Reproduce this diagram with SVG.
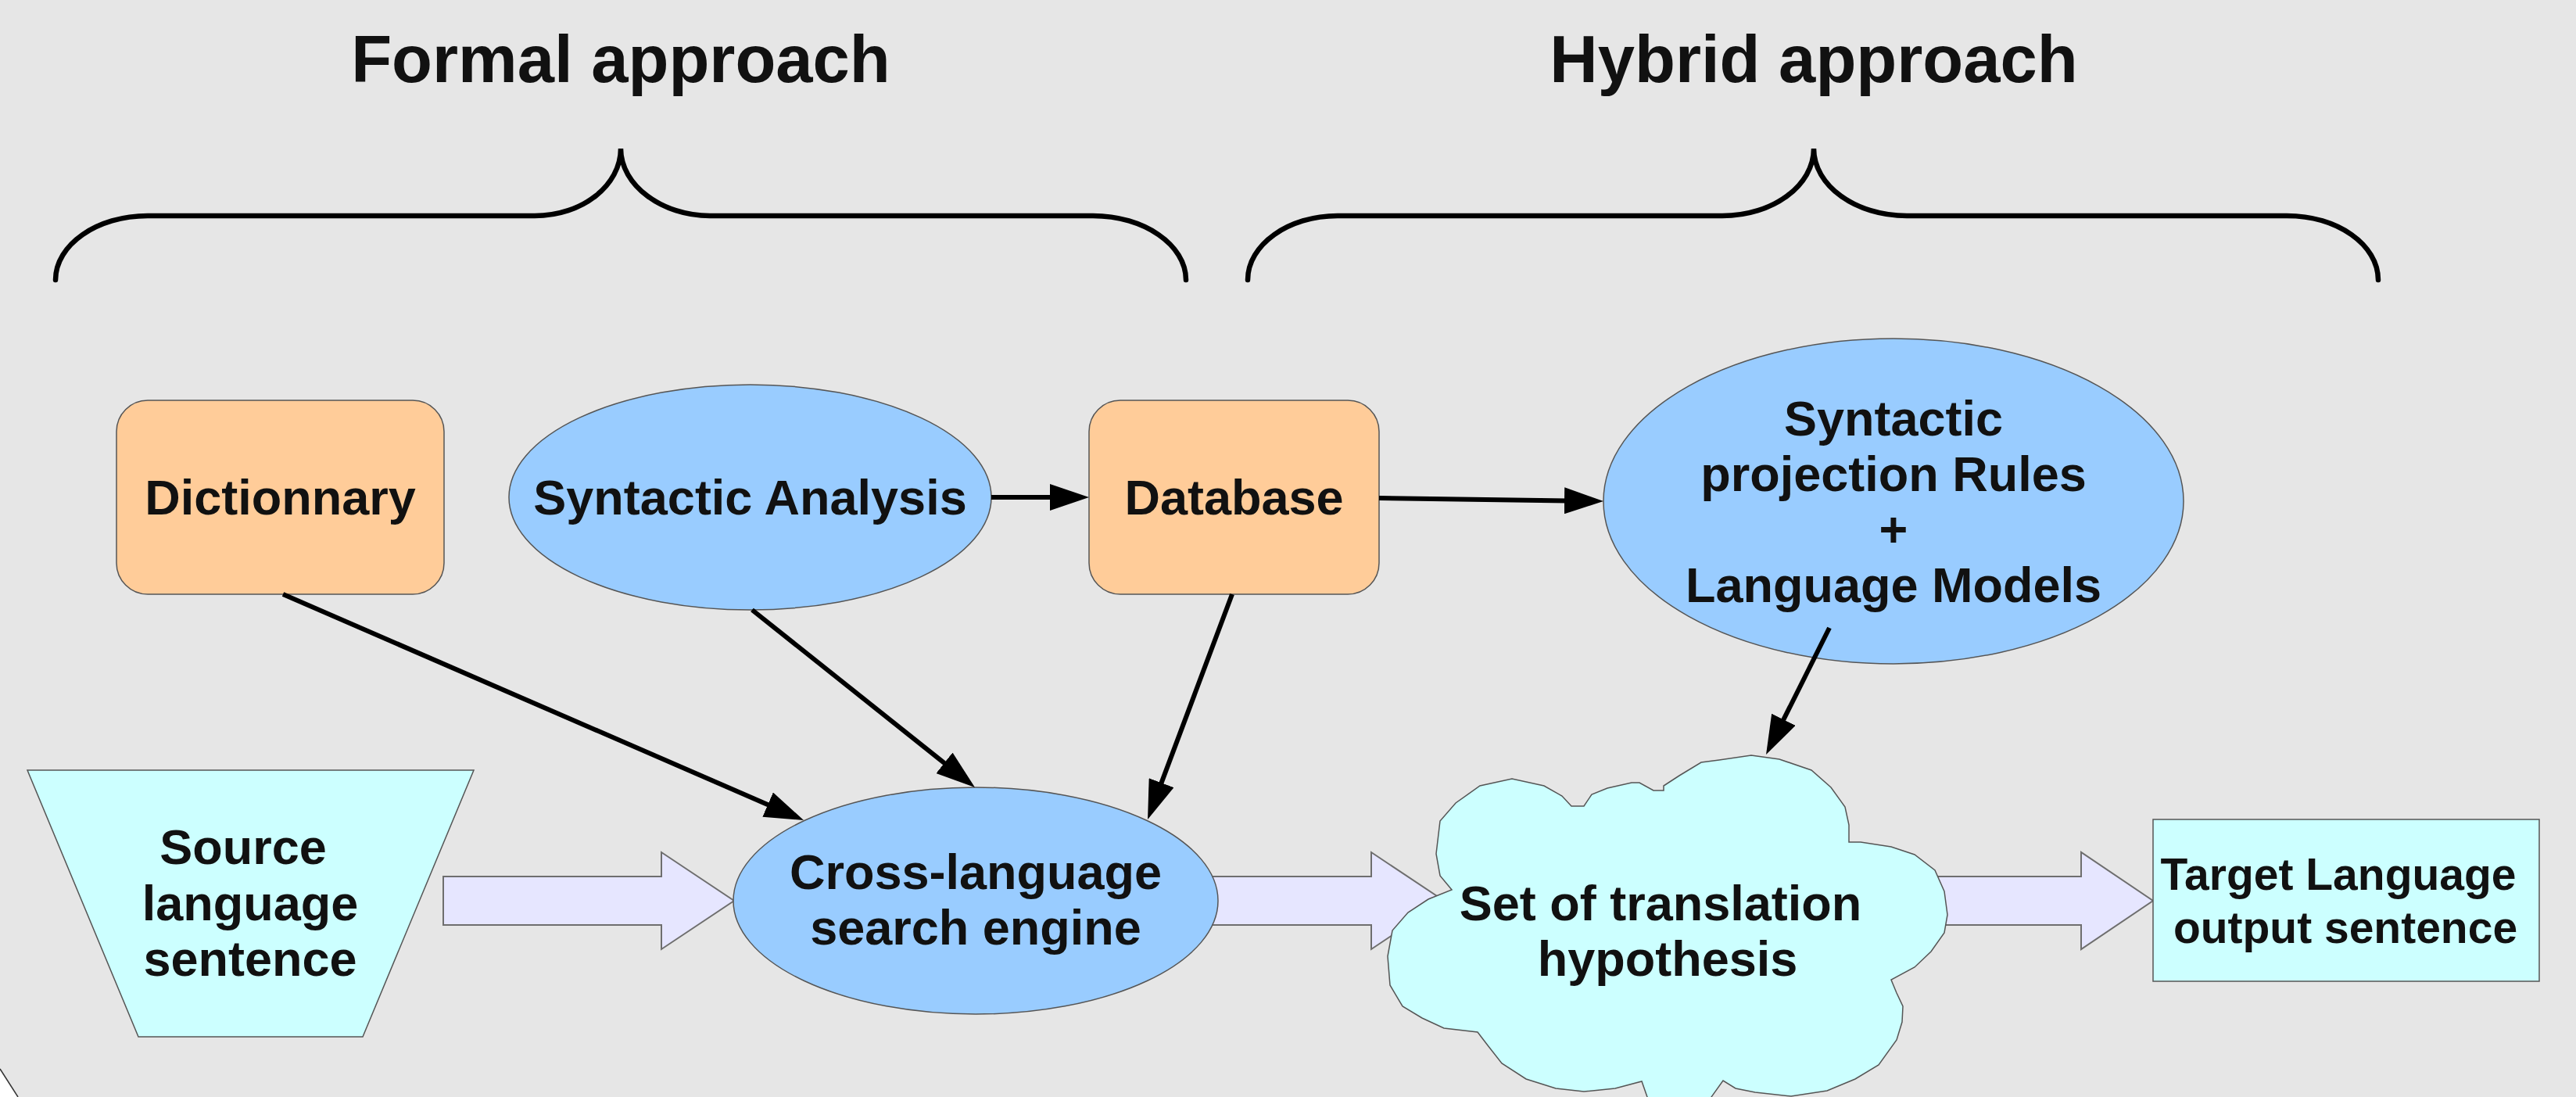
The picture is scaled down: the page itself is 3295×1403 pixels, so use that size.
<svg xmlns="http://www.w3.org/2000/svg" width="3295" height="1403" viewBox="0 0 3295 1403">
<style>
.bg{fill:#e6e6e6}
.brace{fill:none;stroke:#000;stroke-width:6.5;stroke-linecap:round}
.title{font-family:"Liberation Sans",Arial,sans-serif;font-weight:bold;font-size:85px;fill:#111;text-anchor:middle}
.lbl{font-family:"Liberation Sans",Arial,sans-serif;font-weight:bold;font-size:63px;fill:#111;text-anchor:middle}
.lbls{font-family:"Liberation Sans",Arial,sans-serif;font-weight:bold;font-size:57px;fill:#111;text-anchor:middle}
.peach{fill:#ffcc99;stroke:#555;stroke-width:1.5}
.blue{fill:#99ccff;stroke:#555;stroke-width:1.5}
.cyan{fill:#ccffff;stroke:#555;stroke-width:1.5}
.block{fill:#e6e6ff;stroke:#6e6e6e;stroke-width:2}
.conn{fill:none;stroke:#000;stroke-width:6;marker-end:url(#ah)}
</style>
<defs>
<marker id="ah" markerUnits="userSpaceOnUse" viewBox="0 0 50 34" markerWidth="50" markerHeight="34" refX="4" refY="17" orient="auto">
<path d="M0,0 L50,17 L0,34 z" fill="#000"/>
</marker>
</defs>
<rect class="bg" x="0" y="0" width="3295" height="1403"/>
<polygon points="0,1367 23,1403 0,1403" fill="#fff"/>
<line x1="0" y1="1367" x2="23" y2="1403" stroke="#333" stroke-width="1.5"/>

<g id="formal-approach">
<path class="brace" d="M71,358 C71,313 124,276 189,276 L684,276 C745,276 794,237 794,190 C794,237 847,276 908,276 L1398,276 C1463,276 1517,313 1517,358"/>
<text class="title" x="794" y="105">Formal approach</text>
</g>
<g id="hybrid-approach">
<path class="brace" d="M1596,358 C1596,313 1648,276 1711,276 L2203,276 C2268,276 2320,237 2320,190 C2320,237 2373,276 2439,276 L2925,276 C2990,276 3042,313 3042,358"/>
<text class="title" x="2320" y="105">Hybrid approach</text>
</g>

<g id="flow-arrows">
<polygon class="block" points="567,1121 846,1121 846,1090 939,1152 846,1214 846,1183 567,1183"/>
<polygon class="block" points="1480,1121 1754,1121 1754,1090 1847,1152 1754,1214 1754,1183 1480,1183"/>
<polygon class="block" points="2400,1121 2662,1121 2662,1090 2754,1152 2662,1214 2662,1183 2400,1183"/>
</g>

<g id="dictionnary">
<rect class="peach" x="149" y="512" width="419" height="248" rx="40" ry="40"/>
<text class="lbl" x="358.5" y="658">Dictionnary</text>
</g>
<g id="syntactic-analysis">
<ellipse class="blue" cx="959.5" cy="636" rx="308.5" ry="144"/>
<text class="lbl" x="959.5" y="658">Syntactic Analysis</text>
</g>
<g id="database">
<rect class="peach" x="1393" y="512" width="371" height="248" rx="40" ry="40"/>
<text class="lbl" x="1578.5" y="658">Database</text>
</g>
<g id="syntactic-projection">
<ellipse class="blue" cx="2422" cy="641" rx="371" ry="208"/>
<text class="lbl" x="2422" y="557">Syntactic</text>
<text class="lbl" x="2422" y="628">projection Rules</text>
<text class="lbl" x="2422" y="699">+</text>
<text class="lbl" x="2422" y="770">Language Models</text>
</g>
<g id="source-sentence">
<polygon class="cyan" points="35,985 606,985 464,1326 177,1326"/>
<text class="lbl" x="311" y="1105">Source</text>
<text class="lbl" x="320" y="1177">language</text>
<text class="lbl" x="320" y="1248">sentence</text>
</g>
<g id="search-engine">
<ellipse class="blue" cx="1248" cy="1152" rx="310" ry="145"/>
<text class="lbl" x="1248" y="1137">Cross-language</text>
<text class="lbl" x="1248" y="1208">search engine</text>
</g>
<g id="translation-hypothesis">
<path class="cyan" d="M2240,966 L2276,971 L2317,985 L2342,1007 L2360,1032 L2365,1055 L2365,1077 L2380,1077 L2419,1083 L2449,1093 L2475,1113 L2487,1140 L2491,1170 L2487,1193 L2470,1217 L2449,1237 L2419,1253 L2426,1270 L2434,1287 L2433,1307 L2426,1330 L2403,1362 L2373,1380 L2337,1395 L2291,1402 L2245,1397 L2220,1392 L2204,1382 L2189,1403 L2180,1430 L2115,1430 L2107,1403 L2100,1383 L2066,1392 L2026,1396 L1990,1392 L1952,1380 L1921,1360 L1903,1337 L1890,1320 L1847,1315 L1819,1302 L1794,1287 L1778,1260 L1775,1223 L1781,1190 L1801,1167 L1827,1150 L1857,1138 L1842,1120 L1837,1092 L1842,1050 L1862,1027 L1893,1005 L1934,996 L1975,1005 L1998,1018 L2010,1031 L2026,1031 L2036,1016 L2056,1008 L2087,1001 L2097,1001 L2115,1011 L2128,1011 L2128,1005 L2148,992 L2176,975 L2199,972 Z"/>
<text class="lbl" x="2124" y="1177">Set of translation</text>
<text class="lbl" x="2133" y="1248">hypothesis</text>
</g>
<g id="target-sentence">
<rect class="cyan" x="2754" y="1048" width="494" height="207"/>
<text class="lbls" x="2991" y="1138">Target Language</text>
<text class="lbls" x="3000" y="1206">output sentence</text>
</g>

<g id="connectors">
<line class="conn" x1="362" y1="760" x2="985.8" y2="1030.7"/>
<line class="conn" x1="962" y1="780" x2="1211" y2="978.3"/>
<line class="conn" x1="1576" y1="760" x2="1484.2" y2="1004.9"/>
<line class="conn" x1="1268" y1="636" x2="1347" y2="636"/>
<line class="conn" x1="1764" y1="637" x2="2005" y2="640.4"/>
<line class="conn" x1="2340" y1="803" x2="2279.6" y2="923.9"/>
</g>
</svg>
